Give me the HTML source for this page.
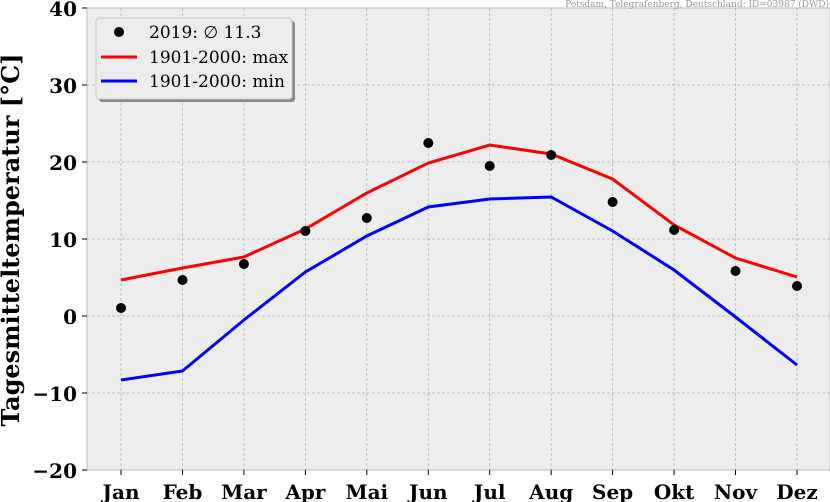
<!DOCTYPE html>
<html><head><meta charset="utf-8"><style>body{margin:0;background:#fff}svg{display:block}</style></head><body>
<svg width="830" height="502" xmlns="http://www.w3.org/2000/svg" font-family="DejaVu Serif, serif">
<rect x="87" y="8" width="743" height="462" fill="#ededed" stroke="#bdbdbd" stroke-width="1"/>
<g stroke="#b5b5b5" stroke-width="0.8" stroke-dasharray="3,2">
<line x1="87" x2="830" y1="8" y2="8"/><line x1="87" x2="830" y1="85" y2="85"/><line x1="87" x2="830" y1="162" y2="162"/><line x1="87" x2="830" y1="239" y2="239"/><line x1="87" x2="830" y1="316" y2="316"/><line x1="87" x2="830" y1="393" y2="393"/>
<line x1="121" x2="121" y1="8" y2="470"/><line x1="182.5" x2="182.5" y1="8" y2="470"/><line x1="243.9" x2="243.9" y1="8" y2="470"/><line x1="305.4" x2="305.4" y1="8" y2="470"/><line x1="366.8" x2="366.8" y1="8" y2="470"/><line x1="428.3" x2="428.3" y1="8" y2="470"/><line x1="489.7" x2="489.7" y1="8" y2="470"/><line x1="551.2" x2="551.2" y1="8" y2="470"/><line x1="612.6" x2="612.6" y1="8" y2="470"/><line x1="674.1" x2="674.1" y1="8" y2="470"/><line x1="735.5" x2="735.5" y1="8" y2="470"/><line x1="797" x2="797" y1="8" y2="470"/>
</g>
<g stroke="#000" stroke-width="1">
<line x1="82" x2="87" y1="8" y2="8"/><line x1="82" x2="87" y1="85" y2="85"/><line x1="82" x2="87" y1="162" y2="162"/><line x1="82" x2="87" y1="239" y2="239"/><line x1="82" x2="87" y1="316" y2="316"/><line x1="82" x2="87" y1="393" y2="393"/><line x1="82" x2="87" y1="470" y2="470"/>
<line x1="121" x2="121" y1="470" y2="475"/><line x1="182.5" x2="182.5" y1="470" y2="475"/><line x1="243.9" x2="243.9" y1="470" y2="475"/><line x1="305.4" x2="305.4" y1="470" y2="475"/><line x1="366.8" x2="366.8" y1="470" y2="475"/><line x1="428.3" x2="428.3" y1="470" y2="475"/><line x1="489.7" x2="489.7" y1="470" y2="475"/><line x1="551.2" x2="551.2" y1="470" y2="475"/><line x1="612.6" x2="612.6" y1="470" y2="475"/><line x1="674.1" x2="674.1" y1="470" y2="475"/><line x1="735.5" x2="735.5" y1="470" y2="475"/><line x1="797" x2="797" y1="470" y2="475"/>
</g>
<g font-size="20" font-weight="bold" text-anchor="end" fill="#000">
<text x="77" y="16">40</text><text x="77" y="93">30</text><text x="77" y="170">20</text><text x="77" y="247">10</text><text x="77" y="324">0</text><text x="77" y="401">−10</text><text x="77" y="478">−20</text>
</g>
<g font-size="20" font-weight="bold" text-anchor="middle" fill="#000">
<text x="121" y="499">Jan</text><text x="182.5" y="499">Feb</text><text x="243.9" y="499">Mar</text><text x="305.4" y="499">Apr</text><text x="366.8" y="499">Mai</text><text x="428.3" y="499">Jun</text><text x="489.7" y="499">Jul</text><text x="551.2" y="499">Aug</text><text x="612.6" y="499">Sep</text><text x="674.1" y="499">Okt</text><text x="735.5" y="499">Nov</text><text x="797" y="499">Dez</text>
</g>
<text transform="translate(19,240) rotate(-90)" font-size="24" font-weight="bold" text-anchor="middle">Tagesmitteltemperatur [°C]</text>
<text x="829" y="7" font-size="9" fill="#999" text-anchor="end">Potsdam, Telegrafenberg, Deutschland: ID=03987 (DWD)</text>
<polyline fill="none" stroke="#ff0000" stroke-width="3" points="121,280 182.5,268 243.9,257 305.4,229 366.8,193 428.3,163 489.7,145 551.2,154 612.6,179 674.1,225 735.5,258 797,277"/>
<polyline fill="none" stroke="#0000ff" stroke-width="3" points="121,380 182.5,371 243.9,320 305.4,272 366.8,236 428.3,207 489.7,199 551.2,197 612.6,231 674.1,270 735.5,317 797,365"/>
<g fill="#000">
<circle cx="121" cy="308" r="5"/><circle cx="182.5" cy="280" r="5"/><circle cx="243.9" cy="264" r="5"/><circle cx="305.4" cy="231" r="5"/><circle cx="366.8" cy="218" r="5"/><circle cx="428.3" cy="143" r="5"/><circle cx="489.7" cy="166" r="5"/><circle cx="551.2" cy="155" r="5"/><circle cx="612.6" cy="202" r="5"/><circle cx="674.1" cy="230" r="5"/><circle cx="735.5" cy="271" r="5"/><circle cx="797" cy="286" r="5"/>
</g>
<rect x="99" y="21" width="196" height="81" rx="3" fill="#888"/>
<rect x="96" y="18" width="196" height="81" rx="3" fill="#ececec" stroke="#c8c8c8"/>
<circle cx="119" cy="32" r="5"/>
<line x1="101" x2="137" y1="57" y2="57" stroke="#ff0000" stroke-width="3"/>
<line x1="101" x2="137" y1="81" y2="81" stroke="#0000ff" stroke-width="3"/>
<g font-size="17" fill="#000">
<text x="149" y="38">2019: ∅ 11.3</text><text x="149" y="63">1901-2000: max</text><text x="149" y="87">1901-2000: min</text>
</g>
</svg>
</body></html>
